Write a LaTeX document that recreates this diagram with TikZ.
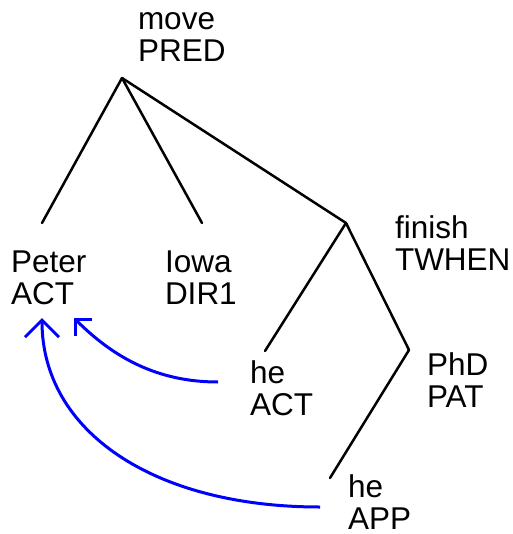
\documentclass[tikz,border=0pt]{standalone}
\usepackage{fontspec}
\setmainfont{Liberation Sans}
\usetikzlibrary{arrows.meta}

\tikzset{
  edge/.style={line width=2.5pt, line cap=round},
  lbl/.style={anchor=base west, inner sep=0pt, outer sep=0pt,
              font=\fontsize{31.5}{32}\selectfont},
  coref/.style={draw=blue, line width=3pt},
}

\newcommand{\twoline}[2]{\begin{tabular}[t]{@{}l@{}}#1\\#2\end{tabular}}

\begin{document}
\begin{tikzpicture}[x=1pt, y=-1pt]
  \useasboundingbox (0,0) rectangle (512,534);

  % tree vertices
  \coordinate (vmove)   at (122,78);
  \coordinate (vpeter)  at (42,223);
  \coordinate (viowa)   at (202,223);
  \coordinate (vfinish) at (346,223);
  \coordinate (vheact)  at (265,351);
  \coordinate (vphd)    at (409,350);
  \coordinate (vheapp)  at (330,478);

  % node labels: lemma over functor
  \node[lbl] (move)   at (138,30)  {\twoline{move}{PRED}};
  \node[lbl] (peter)  at (11,272)  {\twoline{Peter}{ACT}};
  \node[lbl] (iowa)   at (165,272) {\twoline{Iowa}{DIR1}};
  \node[lbl] (finish) at (395,238) {\twoline{finish}{TWHEN}};
  \node[lbl] (heact)  at (250,383) {\twoline{he}{ACT}};
  \node[lbl] (phd)    at (427,375) {\twoline{PhD}{PAT}};
  \node[lbl] (heapp)  at (348,497) {\twoline{he}{APP}};

  % dependency edges
  \draw[edge] (vmove) -- (vpeter);
  \draw[edge] (vmove) -- (viowa);
  \draw[edge] (vmove) -- (vfinish);
  \draw[edge] (vfinish) -- (vheact);
  \draw[edge] (vfinish) -- (vphd);
  \draw[edge] (vphd) -- (vheapp);

  % coreference arrows
  \coordinate (cA0) at (218,382);
  \coordinate (cA1) at (74,318);
  \coordinate (cB0) at (320,507);
  \coordinate (cB1) at (42,318);
  \draw[coref, -{Straight Barb[length=11.5pt, width=23pt]}]
    (cA0) .. controls (158,382) and (114,358) .. (cA1);
  \draw[coref, -{Straight Barb[length=17pt, width=34pt]}]
    (cB0) .. controls (153,507) and (42,431) .. (cB1);
\end{tikzpicture}
\end{document}
